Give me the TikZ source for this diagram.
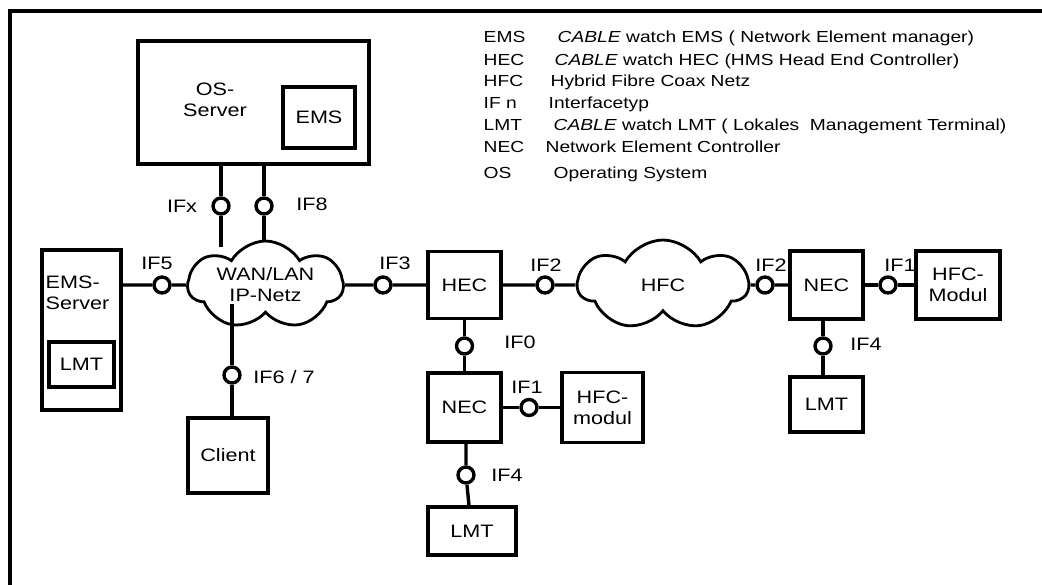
\documentclass[tikz,border=0pt]{standalone}
\usepackage{fontspec}
\setmainfont{Liberation Sans}[FakeStretch=1.2]
\usetikzlibrary{shapes.symbols}

\begin{document}
\begin{tikzpicture}[x=1pt, y=-1pt, line width=3.4pt,
	caja/.style={draw, rectangle, inner sep=0pt, align=center, font=\fontsize{18}{21}\selectfont},
	puerto/.style={draw, circle, fill=white, minimum size=16pt, inner sep=0pt},
	nube/.style={draw, cloud, cloud puffs=7, cloud puff arc=120, cloud ignores aspect, line width=2.8pt, inner sep=0pt, align=center, font=\fontsize{18}{21}\selectfont},
	etiq/.style={inner sep=0pt, font=\fontsize{18}{21}\selectfont},
	leyenda/.style={anchor=base west, inner sep=0pt, font=\fontsize{16}{18}\selectfont}]
	\useasboundingbox (0,0) rectangle (1042,585);
	% marco
	\draw [line width=4pt] (1042,11) -- (10,11) -- (10,585);

	% leyenda
	\node [leyenda] (lemsa) at (482,43) {EMS};
	\node [leyenda] (lemsb) at (556,43) {\textit{CABLE} watch EMS ( Network Element manager)};
	\node [leyenda] (lheca) at (482,66) {HEC};
	\node [leyenda] (lhecb) at (553,66) {\textit{CABLE} watch HEC (HMS Head End Controller)};
	\node [leyenda] (lhfca) at (482,87) {HFC};
	\node [leyenda] (lhfcb) at (549,87) {Hybrid Fibre Coax Netz};
	\node [leyenda] (lifa) at (482,109) {IF n};
	\node [leyenda] (lifb) at (547,109) {Interfacetyp};
	\node [leyenda] (llmta) at (482,131) {LMT};
	\node [leyenda] (llmtb) at (552,131) {\textit{CABLE} watch LMT ( Lokales\ \ Management Terminal)};
	\node [leyenda] (lneca) at (482,153) {NEC};
	\node [leyenda] (lnecb) at (544,153) {Network Element Controller};
	\node [leyenda] (losa) at (482,179) {OS};
	\node [leyenda] (losb) at (552,179) {Operating System};

	% servidores
	\node [caja, minimum width=231pt, minimum height=123pt] (os) at (253.5,102.5) {};
	\node [etiq, align=center] (ostxt) at (215,100) {OS-\\Server};
	\node [caja, minimum width=72pt, minimum height=61pt] (osems) at (319,117.5) {EMS};
	\node [caja, minimum width=79pt, minimum height=160pt] (emsserver) at (81.5,330) {};
	\node [etiq, align=left, anchor=west] (emstxt) at (44,293) {EMS-\\Server};
	\node [caja, minimum width=65pt, minimum height=45pt] (lmtems) at (81.5,364.5) {LMT};
	\node [caja, minimum width=80pt, minimum height=75pt] (client) at (228,455.5) {Client};

	% redes
	\node [nube, minimum width=155pt, minimum height=88pt] (wan) at (265.5,285) {WAN/LAN\\IP-Netz};
	\node [nube, minimum width=170pt, minimum height=90pt] (hfc) at (663,285) {HFC};

	% controladores
	\node [caja, minimum width=73pt, minimum height=67pt] (hec) at (464.5,285) {HEC};
	\node [caja, minimum width=73pt, minimum height=69pt] (necA) at (464.5,407.5) {NEC};
	\node [caja, minimum width=81pt, minimum height=70pt] (hfcmodA) at (602.5,407.5) {HFC-\\modul};
	\node [caja, minimum width=88pt, minimum height=48pt] (lmtA) at (472,531) {LMT};
	\node [caja, minimum width=73pt, minimum height=68pt] (necB) at (826.5,285) {NEC};
	\node [caja, minimum width=84pt, minimum height=68pt] (hfcmodB) at (958,285) {HFC-\\Modul};
	\node [caja, minimum width=73pt, minimum height=55pt] (lmtB) at (826.5,404.5) {LMT};

	% interfaces
	\node [puerto] (ifx) at (221,206) {};
	\node [puerto] (if8) at (264,206) {};
	\node [puerto] (if5) at (162,285) {};
	\node [puerto] (if3) at (383,285) {};
	\node [puerto] (if67) at (232,375) {};
	\node [puerto] (if0) at (464.5,346) {};
	\node [puerto] (if1A) at (529,407.5) {};
	\node [puerto] (if4A) at (466,475) {};
	\node [puerto] (if2A) at (545,285) {};
	\node [puerto] (if2B) at (765,285) {};
	\node [puerto] (if1B) at (888,285) {};
	\node [puerto] (if4B) at (823,346) {};

	\node [etiq] (tifx) at (182,206) {IFx};
	\node [etiq] (tif8) at (312,204) {IF8};
	\node [etiq] (tif5) at (157,263) {IF5};
	\node [etiq] (tif3) at (395,263) {IF3};
	\node [etiq] (tif67) at (284,377) {IF6 / 7};
	\node [etiq] (tif0) at (520,342) {IF0};
	\node [etiq] (tif1A) at (527,387) {IF1};
	\node [etiq] (tif4A) at (507,475) {IF4};
	\node [etiq] (tif2A) at (546,265) {IF2};
	\node [etiq] (tif2B) at (771,265) {IF2};
	\node [etiq] (tif1B) at (900,265) {IF1};
	\node [etiq] (tif4B) at (866,344) {IF4};

	% conexiones
	\draw (ifx |- os.south) -- (ifx) -- ([yshift=-7pt]ifx |- wan.north);
	\draw (if8 |- os.south) -- (if8) -- ([yshift=-1pt]if8 |- wan.north);
	\draw (emsserver.east |- if5) -- (if5) -- (wan);
	\draw ([yshift=10pt]if67 |- wan.south) -- (if67) -- (if67 |- client.north);
	\draw (wan) -- (if3) -- (hec);
	\draw (hec) -- (if0) -- (necA);
	\draw (necA) -- (if1A) -- (hfcmodA);
	\draw (if4A |- necA.south) -- (if4A) -- ([xshift=3pt]if4A |- lmtA.north);
	\draw (hec) -- (if2A) -- (hfc);
	\draw (hfc) -- (if2B) -- (necB);
	\draw (necB) -- (if1B) -- (hfcmodB);
	\draw (if4B |- necB.south) -- (if4B) -- (if4B |- lmtB.north);
\end{tikzpicture}
\end{document}
